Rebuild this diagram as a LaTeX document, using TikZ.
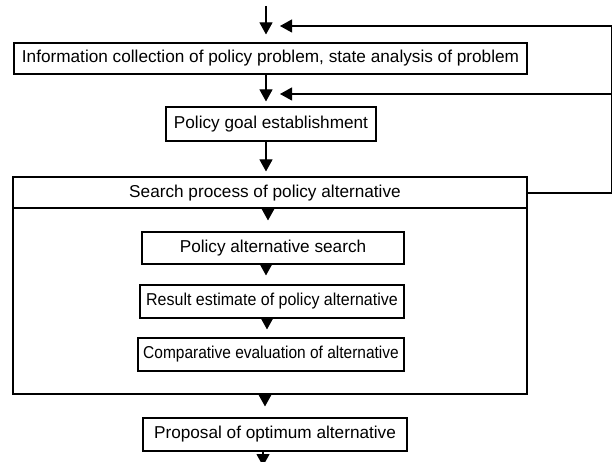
\documentclass[tikz,border=0pt]{standalone}
\usepackage{graphicx}
\usepackage{fontspec}
\setmainfont{Liberation Sans}
\usetikzlibrary{arrows.meta}
\begin{document}
\begin{tikzpicture}[x=1bp,y=-1bp,
  box/.style={draw, line width=1.1bp, inner sep=0pt, font=\fontsize{17.2bp}{20bp}\selectfont},
  lbl/.style={inner sep=0pt, font=\fontsize{17.2bp}{20bp}\selectfont},
  arr/.style={line width=1.1bp, -{Triangle[width=13bp,length=12bp]}},
  ln/.style={line width=1.1bp}]
\useasboundingbox (0,0) rectangle (612,462);
% boxes
\node[box, minimum width=513bp, minimum height=31bp] (b1) at (270.5,58.5) {Information collection of policy problem, state analysis of problem};
\node[box, minimum width=210bp, minimum height=34bp] (b2) at (271,124) {Policy goal establishment};
\node[box, minimum width=514bp, minimum height=217bp] (big) at (270,285.5) {};
\node[lbl] (hdr) at (265,193) {Search process of policy alternative};
\node[box, minimum width=262bp, minimum height=32bp] (pas) at (273,248) {Policy alternative search};
\node[box, minimum width=264bp, minimum height=33bp] (res) at (272,301.5) {\scalebox{0.93}[1]{Result estimate of policy alternative}};
\node[box, minimum width=266bp, minimum height=33bp] (cmp) at (271,354.5) {\scalebox{0.9}[1]{Comparative evaluation of alternative}};
\node[box, minimum width=264bp, minimum height=33bp] (prop) at (275,434.5) {Proposal of optimum alternative};
% coordinates
\coordinate (s0) at (266,6);
\coordinate (hl) at (13,208);
\coordinate (t1) at (268,208);
\coordinate (t2) at (266,0);
\coordinate (t3) at (267,0);
\coordinate (t4) at (265,0);
\coordinate (t5) at (263,0);
\coordinate (endp) at (263,466);
\coordinate (fbB) at (611.5,193);
\coordinate (fbM) at (611.5,94);
\coordinate (fbT) at (611.5,26);
\coordinate (tp1) at (280,26);
\coordinate (tp2) at (280,94);
% header divider
\draw[ln] (big.west |- hl) -- (big.east |- hl);
% main flow
\draw[arr, shorten >=8bp] (s0) -- (s0 |- b1.north);
\draw[arr, shorten >=5bp] (b1.south -| s0) -- (s0 |- b2.north);
\draw[arr, shorten >=5bp] (b2.south -| s0) -- (s0 |- big.north);
\draw[arr, shorten >=11bp] (t1) -- (t1 |- pas.north);
\draw[arr, shorten >=9bp] (pas.south -| t2) -- (t2 |- res.north);
\draw[arr, shorten >=8bp] (res.south -| t3) -- (t3 |- cmp.north);
\draw[arr, shorten >=11bp] (big.south -| t4) -- (t4 |- prop.north);
\draw[arr] (prop.south -| t5) -- (endp);
% feedback
\draw[ln] (big.east |- fbB) -- (fbB) -- (fbT);
\draw[arr] (fbT) -- (tp1);
\draw[arr] (fbM) -- (tp2);
\end{tikzpicture}
\end{document}
